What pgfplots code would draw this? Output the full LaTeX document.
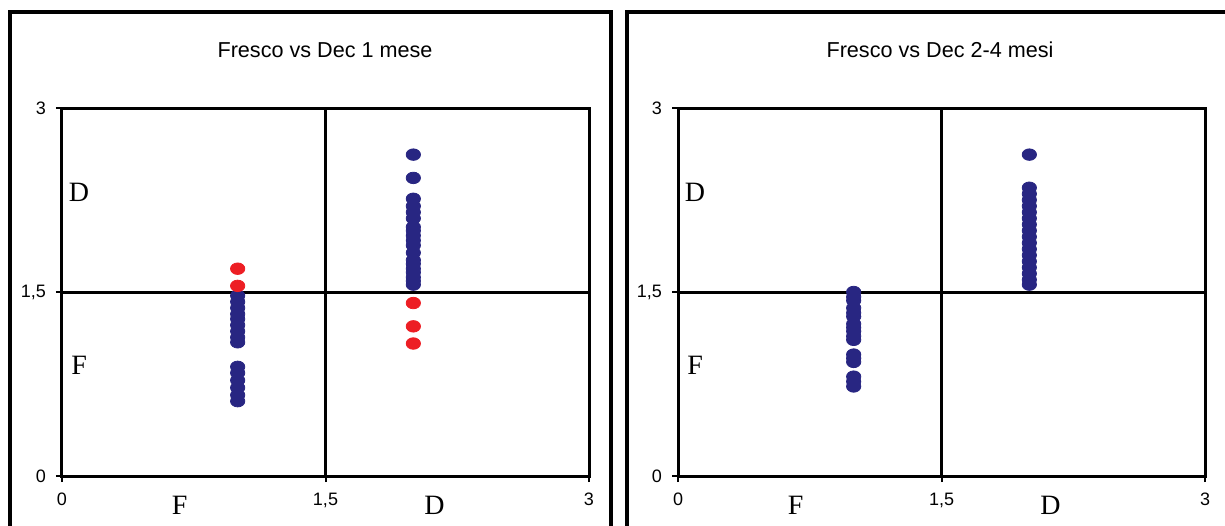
\documentclass[border=0pt]{standalone}
\usepackage{pgfplots}
\pgfplotsset{compat=1.18}
\usepackage{fontspec}
\setmainfont{Liberation Sans}
\newfontfamily\serif{Liberation Serif}

\definecolor{navy}{RGB}{40,38,130}
\definecolor{redpt}{RGB}{237,30,36}

\pgfplotsset{
  quad/.style={
    width=263.5pt, height=184pt, scale only axis,
    xmin=0, xmax=3, ymin=0, ymax=3,
    xtick={0,1.5,3}, ytick={0,1.5,3},
    xticklabels={0,{1,5},3}, yticklabels={0,{1,5},3},
    tick pos=left, tick align=outside, major tick length=3pt,
    axis line style={line width=1.5pt},
    tick style={black, line width=1pt},
    /pgf/number format/assume math mode=true,
    ticklabel style={font=\fontsize{9}{10}\selectfont},
    xticklabel style={yshift=-2pt},
    yticklabel style={xshift=-1.5pt},
    clip=false,
    anchor=south west,
  },
  blue dots/.style={only marks, mark=*, mark size=3.2pt,
    mark options={draw=navy, fill=navy, xscale=1.12, yscale=0.9}},
  red dots/.style={only marks, mark=*, mark size=3.2pt,
    mark options={draw=redpt, fill=redpt, xscale=1.12, yscale=0.9}},
}

\begin{document}
\begin{tikzpicture}
\useasboundingbox (0,0) rectangle (612.5pt,262.5pt);
\clip (0,0) rectangle (612.5pt,262.5pt);

% panel frames (cut by the page edges)
\draw[line width=1.6pt] (5pt,-20pt) rectangle (305.5pt,256.5pt);
\draw[line width=1.6pt] (313.5pt,-20pt) rectangle (640pt,256.5pt);

\node[font=\fontsize{10.8}{12}\selectfont] at (162.5pt,237.5pt) {Fresco vs Dec 1 mese};
\node[font=\fontsize{10.8}{12}\selectfont] at (470pt,237.5pt) {Fresco vs Dec 2-4 mesi};

% left panel
\begin{axis}[quad, at={(31pt,24.5pt)}]
\draw[line width=1.5pt] (axis cs:1.5,0) -- (axis cs:1.5,3);
\draw[line width=1.5pt] (axis cs:0,1.5) -- (axis cs:3,1.5);
\addplot[blue dots] coordinates {
 (1,1.47) (1,1.42) (1,1.37) (1,1.32) (1,1.28) (1,1.23) (1,1.18) (1,1.13) (1,1.09)
 (1,0.89) (1,0.84) (1,0.78) (1,0.72) (1,0.66) (1,0.61)
 (2,2.62) (2,2.43) (2,2.26) (2,2.20) (2,2.15) (2,2.10) (2,2.03) (2,2.00) (2,1.96)
 (2,1.92) (2,1.88) (2,1.82) (2,1.76) (2,1.73) (2,1.69) (2,1.66) (2,1.62) (2,1.59) (2,1.56)
};
\addplot[red dots] coordinates {
 (1,1.69) (1,1.55)
 (2,1.41) (2,1.22) (2,1.08)
};
\node[font=\serif\fontsize{14}{16}\selectfont] at (axis cs:0.097,2.31) {D};
\node[font=\serif\fontsize{14}{16}\selectfont] at (axis cs:0.097,0.90) {F};
\node[font=\serif\fontsize{14}{16}\selectfont] at (axis cs:0.67,-0.24) {F};
\node[font=\serif\fontsize{14}{16}\selectfont] at (axis cs:2.12,-0.24) {D};
\end{axis}

% right panel
\begin{axis}[quad, at={(339pt,24.5pt)}]
\draw[line width=1.5pt] (axis cs:1.5,0) -- (axis cs:1.5,3);
\draw[line width=1.5pt] (axis cs:0,1.5) -- (axis cs:3,1.5);
\addplot[blue dots] coordinates {
 (1,1.50) (1,1.46) (1,1.43) (1,1.37) (1,1.33) (1,1.30) (1,1.24) (1,1.21) (1,1.18)
 (1,1.14) (1,1.11) (1,0.99) (1,0.96) (1,0.93) (1,0.81) (1,0.77) (1,0.73)
 (2,2.62) (2,2.35) (2,2.30) (2,2.25) (2,2.20) (2,2.15) (2,2.10) (2,2.05) (2,2.00)
 (2,1.95) (2,1.90) (2,1.85) (2,1.80) (2,1.75) (2,1.70) (2,1.65) (2,1.60) (2,1.56)
};
\node[font=\serif\fontsize{14}{16}\selectfont] at (axis cs:0.097,2.31) {D};
\node[font=\serif\fontsize{14}{16}\selectfont] at (axis cs:0.097,0.90) {F};
\node[font=\serif\fontsize{14}{16}\selectfont] at (axis cs:0.67,-0.24) {F};
\node[font=\serif\fontsize{14}{16}\selectfont] at (axis cs:2.12,-0.24) {D};
\end{axis}
\end{tikzpicture}
\end{document}
